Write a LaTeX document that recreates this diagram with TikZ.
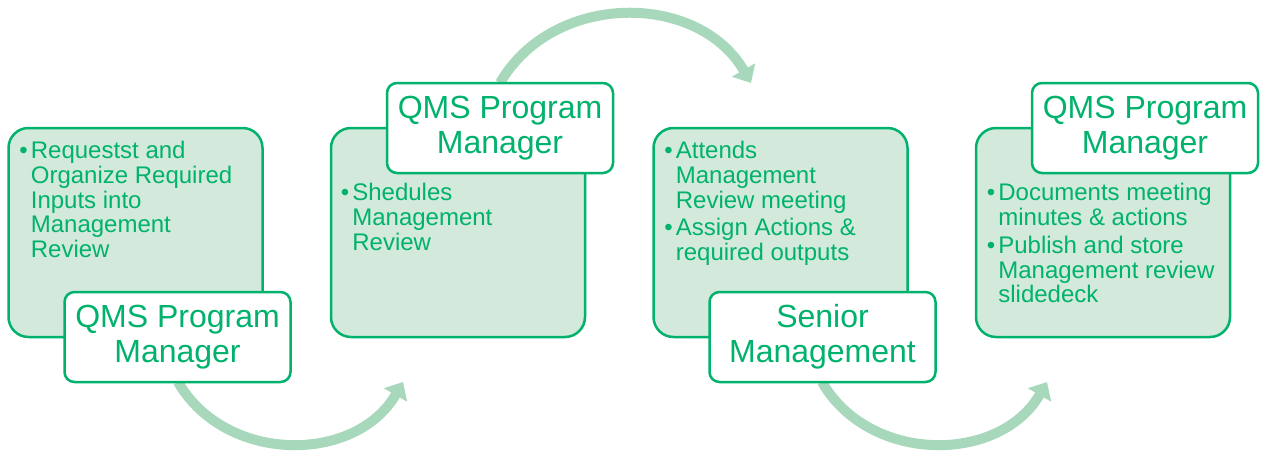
\documentclass[tikz,border=0pt]{standalone}
\usepackage{fontspec}
\setmainfont{Liberation Sans}
\usetikzlibrary{positioning, arrows.meta}
\definecolor{qmsgreen}{HTML}{00B26B}
\definecolor{qmsfill}{HTML}{D2E9DC}
\definecolor{qmsarrow}{HTML}{A8D8BB}
\newcommand{\bul}{\textbullet}

\begin{document}
\begin{tikzpicture}[x=1pt, y=1pt,
     node distance = 66pt,
        box/.style = {rectangle, rounded corners=20pt, draw=qmsgreen, line width=2.5pt,
                      fill=qmsfill, minimum width=254pt, minimum height=209pt, inner sep=0pt},
       hbox/.style = {rectangle, rounded corners=10pt, draw=qmsgreen, line width=2.5pt,
                      fill=white, minimum width=226pt, minimum height=90pt, inner sep=0pt,
                      align=center, text=qmsgreen, font=\fontsize{32}{35}\selectfont,
                      execute at begin node={\rule{0pt}{30pt}}},
        txt/.style = {anchor=north west, inner sep=0pt, text=qmsgreen,
                      font=\fontsize{24}{24.5}\selectfont},
       flow/.style = {draw=qmsarrow, line width=10pt, looseness=1.08,
                      -{Triangle[width=26pt,length=15pt]}}
                        ]
\useasboundingbox (0,0) rectangle (1261,451);
% boxes
\node (box1) [box] at (135.5,218.5) {};
\node (box2) [box, right=of box1] {};
\node (box3) [box, right=of box2] {};
\node (box4) [box, right=of box3] {};
% box texts
\node (in1) [txt] at ([shift={(12,-14.5)}]box1.north west) {%
  \begin{tabular}{@{}l@{\hspace{3pt}}l@{}}
  \bul & Requestst and\\ & Organize Required\\ & Inputs into\\ & Management\\ & Review
  \end{tabular}};
\node (in2) [txt] at ([shift={(11,-56.5)}]box2.north west) {%
  \begin{tabular}{@{}l@{\hspace{3pt}}l@{}}
  \bul & Shedules\\ & Management\\ & Review
  \end{tabular}};
\node (in3) [txt] at ([shift={(12,-14.5)}]box3.north west) {%
  \begin{tabular}{@{}l@{\hspace{3pt}}l@{}}
  \bul & Attends\\ & Management\\ & Review meeting\\[3pt]
  \bul & Assign Actions \&\\ & required outputs
  \end{tabular}};
\node (in4) [txt] at ([shift={(12,-56.5)}]box4.north west) {%
  \begin{tabular}{@{}l@{\hspace{3pt}}l@{}}
  \bul & Documents meeting\\ & minutes \& actions\\[3pt]
  \bul & Publish and store\\ & Management review\\ & slidedeck
  \end{tabular}};
% arrows, drawn before the headers
\coordinate (s1) at (178,69);
\coordinate (e1) at (403,69);
\coordinate (s2) at (500,368);
\coordinate (e2) at (751,368);
\coordinate (s3) at (822,69);
\coordinate (e3) at (1047,69);
\draw[flow] (s1) to[out=-60, in=-120] (e1);
\draw[flow] (s2) to[out=60, in=120] (e2);
\draw[flow] (s3) to[out=-60, in=-120] (e3);
% headers
\node (mgr1) [hbox, anchor=south east] at ([shift={(28,-45)}]box1.south east) {QMS Program\\Manager};
\node (mgr2) [hbox, anchor=north east] at ([shift={(28,45)}]box2.north east) {QMS Program\\Manager};
\node (snr3) [hbox, anchor=south east] at ([shift={(28,-45)}]box3.south east) {Senior\\Management};
\node (mgr4) [hbox, anchor=north east] at ([shift={(28,45)}]box4.north east) {QMS Program\\Manager};
\end{tikzpicture}
\end{document}
